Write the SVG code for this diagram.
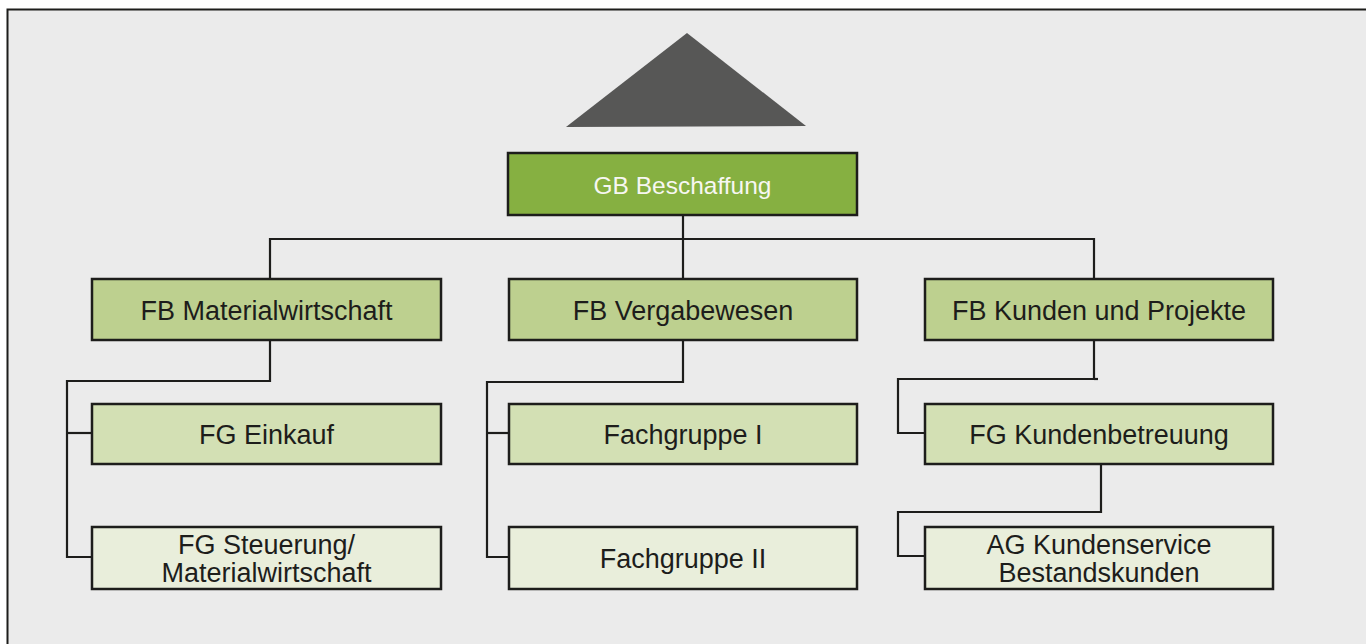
<svg xmlns="http://www.w3.org/2000/svg" width="1366" height="644" viewBox="0 0 1366 644">
<style>
.box{stroke:#1d1d1b;stroke-width:2.5}
.fb{fill:#bdd08f}
.fg{fill:#d3e0b4}
.lt{fill:#e9eedb}
.t{font-family:"Liberation Sans",Arial,sans-serif;font-size:27px;fill:#1d1d1b;text-anchor:middle}
.conn{fill:none;stroke:#1d1d1b;stroke-width:2.2}
</style>
<rect x="0" y="0" width="1366" height="644" fill="#ffffff"/>
<rect x="7.5" y="9.5" width="1400" height="700" fill="#ebebeb" stroke="#1d1d1b" stroke-width="2"/>
<polygon points="687,33 566,127 806,126" fill="#575756"/>
<g id="connectors" class="conn">
<path d="M683,215 V279"/>
<path d="M270,279 V239 H1094 V279"/>
<path d="M270,340 V381 H67 V557 H92"/>
<path d="M67,433 H92"/>
<path d="M683,340 V382 H487 V557 H509"/>
<path d="M487,433 H509"/>
<path d="M1094,340 V379 H898 V433 H925"/>
<path d="M1094,379 H1098"/>
<path d="M1101,464 V512 H898 V556 H925"/>
</g>
<g id="gb">
<rect class="box" x="508" y="153" width="349" height="62" fill="#86b041"/>
<text x="682.5" y="194" class="t" style="font-size:24.5px;fill:#f7f7f2">GB Beschaffung</text>
</g>
<g id="fb-mat">
<rect class="box fb" x="92" y="279" width="349" height="61"/>
<text x="266.5" y="320" class="t">FB Materialwirtschaft</text>
</g>
<g id="fb-verg">
<rect class="box fb" x="509" y="279" width="348" height="61"/>
<text x="683" y="320" class="t">FB Vergabewesen</text>
</g>
<g id="fb-kunden">
<rect class="box fb" x="925" y="279" width="348" height="61"/>
<text x="1099" y="320" class="t">FB Kunden und Projekte</text>
</g>
<g id="fg-einkauf">
<rect class="box fg" x="92" y="404" width="349" height="60"/>
<text x="266.5" y="444" class="t">FG Einkauf</text>
</g>
<g id="fg-steuerung">
<rect class="box lt" x="92" y="527" width="349" height="62"/>
<text x="266.5" y="554" class="t">FG Steuerung/</text>
<text x="266.5" y="582" class="t">Materialwirtschaft</text>
</g>
<g id="fachgruppe-1">
<rect class="box fg" x="509" y="404" width="348" height="60"/>
<text x="683" y="444" class="t">Fachgruppe I</text>
</g>
<g id="fachgruppe-2">
<rect class="box lt" x="509" y="527" width="348" height="62"/>
<text x="683" y="568" class="t">Fachgruppe II</text>
</g>
<g id="fg-kundenbetreuung">
<rect class="box fg" x="925" y="404" width="348" height="60"/>
<text x="1099" y="444" class="t">FG Kundenbetreuung</text>
</g>
<g id="ag-kundenservice">
<rect class="box lt" x="925" y="527" width="348" height="62"/>
<text x="1099" y="554" class="t">AG Kundenservice</text>
<text x="1099" y="582" class="t">Bestandskunden</text>
</g>
</svg>
